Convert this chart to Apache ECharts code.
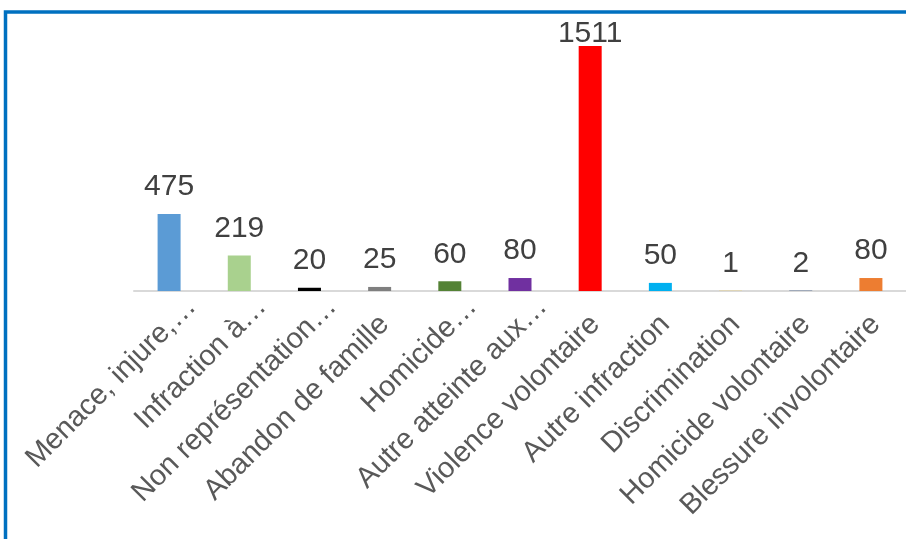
<!DOCTYPE html>
<html>
<head>
<meta charset="utf-8">
<script src="https://cdn.jsdelivr.net/npm/echarts@6/dist/echarts.min.js"></script>
<style>
html,body{margin:0;padding:0;background:#fff;}
#chart{width:906px;height:539px;}
</style>
</head>
<body>
<div id="chart"></div>
<script>
const categories = [
  "Menace, injure,\u2026",
  "Infraction \u00e0\u2026",
  "Non repr\u00e9sentation\u2026",
  "Abandon de famille",
  "Homicide\u2026",
  "Autre atteinte aux\u2026",
  "Violence volontaire",
  "Autre infraction",
  "Discrimination",
  "Homicide volontaire",
  "Blessure involontaire"
];
const values = [475, 219, 20, 25, 60, 80, 1511, 50, 1, 2, 80];
const barColors = ["#5B9BD5", "#A9D18E", "#000000", "#7F7F7F", "#548235", "#7030A0", "#FF0000", "#00B0F0", "#FFC000", "#264478", "#ED7D31"];

const chart = echarts.init(document.getElementById('chart'), null, {renderer: 'canvas'});
const data = values.map((v, i) => {
  const d = {value: v, itemStyle: {color: barColors[i]}};
  if (v === Math.max(...values)) d.label = {distance: -3};
  return d;
});
const catData = categories.map(c => {
  const truncated = c.endsWith('\u2026');
  return {value: c, textStyle: {padding: [0, truncated ? -32 : -7, 0, 0]}};
});
chart.setOption({
  animation: false,
  backgroundColor: '#ffffff',
  textStyle: {fontFamily: 'Liberation Sans, Arial, sans-serif'},
  graphic: [{
    type: 'rect',
    shape: {x: 5.5, y: 12, width: 1200, height: 1200},
    style: {fill: 'none', stroke: '#0070C0', lineWidth: 3.5},
    silent: true, z: 100
  }],
  grid: {left: 134, top: 46, width: 776, height: 245, containLabel: false},
  xAxis: {
    type: 'category',
    data: catData,
    axisLine: {show: true, lineStyle: {color: '#D9D9D9', width: 2}},
    axisTick: {show: false},
    axisLabel: {
      interval: 0, rotate: 45, margin: 34,
      fontSize: 29, color: '#595959',
      fontFamily: 'Liberation Sans, Arial, sans-serif'
    }
  },
  yAxis: {
    type: 'value', min: 0, max: 1511, show: false,
    splitLine: {show: false}
  },
  series: [{
    type: 'bar',
    data: data,
    barWidth: 23,
    label: {
      show: true, position: 'top', distance: 12,
      fontSize: 30, color: '#404040',
      fontFamily: 'Liberation Sans, Arial, sans-serif'
    }
  }]
});
</script>
</body>
</html>
